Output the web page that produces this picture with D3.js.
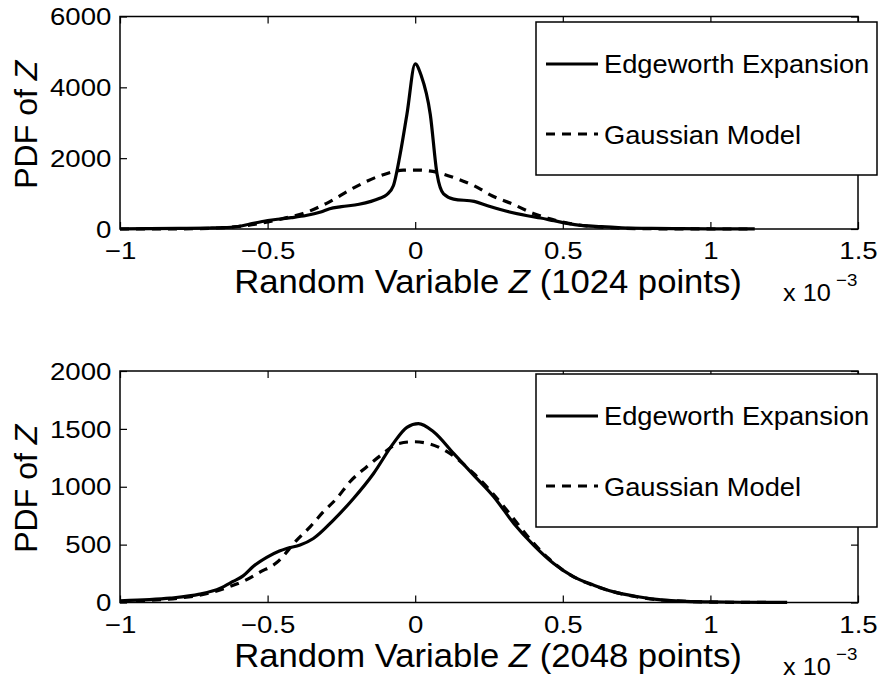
<!DOCTYPE html>
<html>
<head>
<meta charset="utf-8">
<script src="https://cdn.jsdelivr.net/npm/d3@7"></script>
<style>
  body { margin: 0; background: #fff; }
  svg { display: block; font-family: "Liberation Sans", Arial, Helvetica, sans-serif; }
</style>
</head>
<body>
<svg id="chart" width="880" height="679"></svg>
<script>
// values in units of 1e-3 on x
var xTicks = [-1, -0.5, 0, 0.5, 1, 1.5];
var xTickLabels = ["\u22121", "\u22120.5", "0", "0.5", "1", "1.5"];

var yTicksTop = [0, 2000, 4000, 6000];
var yTicksBottom = [0, 500, 1000, 1500, 2000];

var legendNames = ["Edgeworth Expansion", "Gaussian Model"];

// top panel, 1024 points
var edge1024X = [-1.0, -0.9, -0.8, -0.7, -0.66, -0.6, -0.56, -0.5, -0.45, -0.42, -0.37, -0.32, -0.29, -0.25, -0.19, -0.12, -0.096, -0.074, -0.051, -0.028, 0.0, 0.02, 0.051, 0.074, 0.096, 0.13, 0.2, 0.245, 0.31, 0.38, 0.425, 0.47, 0.54, 0.63, 0.7, 0.8, 0.9, 1.0, 1.15];
var edge1024Y = [5, 10, 18, 28, 35, 70, 140, 240, 290, 320, 380, 480, 570, 630, 700, 870, 970, 1220, 2110, 3240, 4660, 4340, 3240, 1550, 990, 845, 780, 655, 500, 375, 310, 235, 125, 65, 35, 15, 8, 4, 2];

var gauss1024X = [-1.0, -0.8, -0.7, -0.6, -0.53, -0.47, -0.42, -0.38, -0.3, -0.21, -0.12, -0.04, 0.01, 0.06, 0.13, 0.2, 0.26, 0.33, 0.4, 0.45, 0.5, 0.58, 0.65, 0.75, 0.9, 1.15];
var gauss1024Y = [0, 4, 20, 70, 150, 250, 350, 440, 725, 1155, 1500, 1660, 1665, 1625, 1455, 1220, 940, 705, 440, 300, 195, 85, 40, 12, 2, 0];

// bottom panel, 2048 points
var edge2048X = [-1.0, -0.9, -0.83, -0.73, -0.66, -0.617, -0.583, -0.549, -0.503, -0.46, -0.435, -0.39, -0.345, -0.277, -0.209, -0.141, -0.074, -0.028, 0.011, 0.062, 0.13, 0.198, 0.266, 0.334, 0.401, 0.469, 0.537, 0.605, 0.673, 0.75, 0.8, 0.9, 1.0, 1.1, 1.26];
var edge2048Y = [15, 25, 38, 72, 124, 182, 230, 311, 390, 445, 467, 496, 553, 712, 899, 1115, 1375, 1513, 1545, 1475, 1288, 1101, 914, 683, 496, 337, 222, 150, 92, 52, 32, 12, 5, 2, 1];

var gauss2048X = [-1.0, -0.9, -0.8, -0.7, -0.628, -0.583, -0.526, -0.469, -0.401, -0.356, -0.311, -0.266, -0.221, -0.164, -0.108, -0.062, -0.006, 0.051, 0.108, 0.2, 0.3, 0.35, 0.4, 0.45, 0.5, 0.55, 0.6, 0.65, 0.7, 0.8, 0.9, 1.0, 1.1, 1.26];
var gauss2048Y = [8, 18, 38, 80, 138, 182, 262, 345, 539, 654, 784, 899, 1043, 1173, 1288, 1369, 1389, 1369, 1303, 1110, 830, 670, 515, 385, 280, 205, 150, 108, 75, 30, 12, 4, 1, 0];

var svg = d3.select("#chart");

function zip(xs, ys) {
    return xs.map(function(x, i) { return {x: x, y: ys[i]}; });
}

function drawPanel(p) {
    var x = d3.scaleLinear().domain([-1, 1.5]).range([120, 858]);
    var y = d3.scaleLinear().domain([0, p.yMax]).range([p.bottom, p.top]);

    var g = svg.append("g");

    // ticks inside on all four sides
    var axB = g.append("g")
        .attr("transform", "translate(0," + p.bottom + ")")
        .call(d3.axisBottom(x).tickValues(xTicks)
            .tickFormat(function(d, i) { return xTickLabels[i]; })
            .tickSizeInner(-7).tickSizeOuter(0).tickPadding(13));
    var axT = g.append("g")
        .attr("transform", "translate(0," + p.top + ")")
        .call(d3.axisTop(x).tickValues(xTicks).tickFormat("")
            .tickSizeInner(-7).tickSizeOuter(0));
    var axL = g.append("g")
        .attr("transform", "translate(120,0)")
        .call(d3.axisLeft(y).tickValues(p.yTicks)
            .tickFormat(function(d) { return String(d); })
            .tickSizeInner(-7).tickSizeOuter(0).tickPadding(7.5));
    var axR = g.append("g")
        .attr("transform", "translate(858,0)")
        .call(d3.axisRight(y).tickValues(p.yTicks).tickFormat("")
            .tickSizeInner(-7).tickSizeOuter(0));

    [axB, axT, axL, axR].forEach(function(a) {
        a.attr("font-family", null).attr("font-size", null);
        a.select(".domain").remove();
        a.selectAll("line").attr("stroke", "#000").attr("stroke-width", 1.2);
        a.selectAll("text")
            .attr("fill", "#000")
            .attr("font-size", 24)
            .attr("transform", "scale(1.15,1)");
    });
    axL.selectAll("text").attr("dy", "0.34em");

    var line = d3.line()
        .x(function(d) { return x(d.x); })
        .y(function(d) { return y(d.y); })
        .curve(d3.curveMonotoneX);

    g.append("path")
        .datum(zip(p.gaussX, p.gaussY))
        .attr("fill", "none")
        .attr("stroke", "#000")
        .attr("stroke-width", 3.2)
        .attr("stroke-dasharray", "9,7")
        .attr("d", line);

    g.append("path")
        .datum(zip(p.edgeX, p.edgeY))
        .attr("fill", "none")
        .attr("stroke", "#000")
        .attr("stroke-width", 3.2)
        .attr("d", line);

    // box
    g.append("rect")
        .attr("x", 120).attr("y", p.top)
        .attr("width", 738).attr("height", p.bottom - p.top)
        .attr("fill", "none").attr("stroke", "#000").attr("stroke-width", 1.5);

    // axis labels
    var xl = g.append("text")
        .attr("transform", "translate(488," + (p.bottom + 64) + ") scale(1.05,1)")
        .attr("text-anchor", "middle")
        .attr("font-size", 33);
    xl.append("tspan").text("Random Variable ");
    xl.append("tspan").attr("font-style", "italic").text("Z");
    xl.append("tspan").text(" (" + p.points + " points)");

    var yl = g.append("text")
        .attr("transform", "translate(37," + ((p.top + p.bottom) / 2 + 2) + ") rotate(-90)")
        .attr("text-anchor", "middle")
        .attr("font-size", 32);
    yl.append("tspan").text("PDF of ");
    yl.append("tspan").attr("font-style", "italic").text("Z");

    // x 10^-3 multiplier
    g.append("text")
        .attr("transform", "translate(783," + (p.bottom + 72) + ") scale(1.1,1)")
        .attr("font-size", 23)
        .text("x 10");
    g.append("text")
        .attr("transform", "translate(836," + (p.bottom + 57) + ") scale(1.1,1)")
        .attr("font-size", 17)
        .text("\u22123");

    // legend
    var lg = g.append("g").attr("transform", "translate(536," + p.legTop + ")");
    lg.append("rect")
        .attr("width", 341).attr("height", 153)
        .attr("fill", "#fff").attr("stroke", "#000").attr("stroke-width", 1.5);
    var rows = [{dash: null, ly: 42, ty: 51}, {dash: "9,7", ly: 112, ty: 122}];
    rows.forEach(function(r, i) {
        lg.append("line")
            .attr("x1", 10).attr("x2", 62)
            .attr("y1", r.ly).attr("y2", r.ly)
            .attr("stroke", "#000").attr("stroke-width", 3.2)
            .attr("stroke-dasharray", r.dash);
        lg.append("text")
            .attr("transform", "translate(68," + r.ty + ") scale(1.07,1)")
            .attr("font-size", 25.5)
            .text(legendNames[i]);
    });
}

drawPanel({top: 16.5, bottom: 229, yMax: 6000, yTicks: yTicksTop, legTop: 22,
    edgeX: edge1024X, edgeY: edge1024Y, gaussX: gauss1024X, gaussY: gauss1024Y, points: 1024});
drawPanel({top: 371, bottom: 602.5, yMax: 2000, yTicks: yTicksBottom, legTop: 374,
    edgeX: edge2048X, edgeY: edge2048Y, gaussX: gauss2048X, gaussY: gauss2048Y, points: 2048});
</script>
</body>
</html>
